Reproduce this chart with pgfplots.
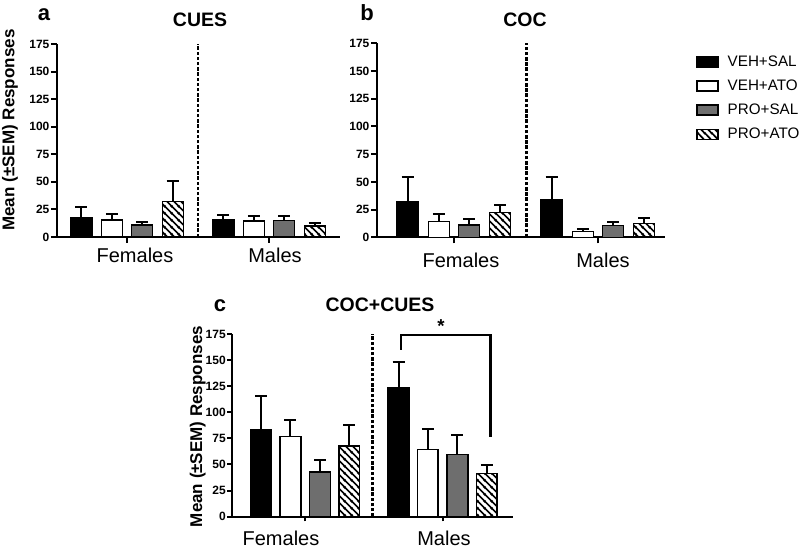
\documentclass[border=0pt]{standalone}
\usepackage{fontspec}
\setmainfont{Liberation Sans}
\usepackage{pgfplots}
\usepackage{pgfplotstable}
\pgfplotsset{compat=1.18}
\usetikzlibrary{patterns.meta}

\definecolor{bargray}{gray}{0.43}

\tikzdeclarepattern{
  name=widehatch,
  type=uncolored,
  bounding box={(0pt,0pt) and (5.4pt,5.4pt)},
  tile size={(5.4pt,5.4pt)},
  code={
    \draw[line width=1.35pt] (-0.8pt,6.2pt) -- (6.2pt,-0.8pt);
    \draw[line width=1.35pt] (-0.8pt,0.8pt) -- (0.8pt,-0.8pt);
    \draw[line width=1.35pt] (4.6pt,6.2pt) -- (6.2pt,4.6pt);
  }
}

% x: 0 = Females, 1 = Males
% vs = VEH+SAL, va = VEH+ATO, ps = PRO+SAL, pa = PRO+ATO (mean, +SEM)
\pgfplotstableread{
x vs vse va vae ps pse pa pae
0 17.5 9.3 15.3 5.7 11.0 2.4 32.3 18.3
1 15.5 4.0 14.6 4.0 15.0 4.2 10.0 3.1
}\cues
\pgfplotstableread{
x vs vse va vae ps pse pa pae
0 31.8 22.4 14.2 6.7 11.2 5.2 22.4 7.0
1 34.2 20.0 5.2 2.1 10.9 2.7 12.4 4.6
}\coc
\pgfplotstableread{
x vs vse va vae ps pse pa pae
0 83.0 33.0 77.0 15.6 43.0 11.3 67.7 19.8
1 124.0 24.0 64.5 19.2 59.7 18.3 41.5 7.7
}\coccues

\newcommand{\legfont}{\fontsize{11.4}{13}\selectfont}

\pgfplotsset{
  panel/.style={
    scale only axis,
    ybar,
    axis lines*=left,
    ymin=0, ymax=175,
    ytick={0,25,...,175},
    xtick={0,1},
    xticklabels={},
    enlargelimits=false,
    clip=false,
    axis line style={line width=1.5pt},
    major tick style={line width=1.5pt, black},
    major tick length=4.5pt,
    tick align=outside,
    /pgf/number format/assume math mode=true,
    yticklabel style={font=\bfseries\fontsize{9}{10}\selectfont, inner sep=1pt},
    ylabel style={font=\bfseries\fontsize{12.75}{14}\selectfont, anchor=center},
  },
  bars/.style={
    draw=black, line width=1.1pt,
    legend image code/.code={
      \draw[##1, line width=1.1pt] (0pt,-3.75pt) rectangle (15.75pt,3.75pt);
      \path[draw=none, fill=none, pattern=none] (0pt,0pt) -- (21pt,0pt);
    },
    error bars/y dir=plus,
    error bars/y explicit,
    error bars/error bar style={line width=1.5pt, black, solid},
    error bars/error mark options={rotate=90, line width=1.5pt, black, mark size=4.5pt},
  },
}

\begin{document}
% node coordinates in pixels of an 800 x 550 image, origin bottom left
\begin{tikzpicture}[x=0.75pt, y=0.75pt]
  \path[use as bounding box] (0,0) rectangle (800,550);

  % ---------- a: CUES ----------
  \begin{axis}[panel,
    at={(42.75pt,234.75pt)}, anchor=south west,
    width=212.25pt, height=144.75pt,
    xmin=-0.493, xmax=1.5,
    bar width=15.75pt,
    ylabel={Mean (±SEM) Responses},
    ylabel style={at={(axis description cs:-0.166,0.554)}},
  ]
    \addplot[bars, fill=black, bar shift=-34.3pt] table[x=x, y=vs, y error=vse] {\cues};
    \addplot[bars, fill=white, bar shift=-11.4pt] table[x=x, y=va, y error=vae] {\cues};
    \addplot[bars, fill=bargray, bar shift=11.4pt] table[x=x, y=ps, y error=pse] {\cues};
    \addplot[bars, pattern=widehatch, bar shift=34.3pt] table[x=x, y=pa, y error=pae] {\cues};
    \draw[line width=2.2pt, dash pattern=on 2.6pt off 1.3pt] (axis cs:0.5,0) -- (axis cs:0.5,175);
  \end{axis}

  % ---------- b: COC ----------
  \begin{axis}[panel,
    at={(282.75pt,234.5pt)}, anchor=south west,
    width=216pt, height=145.5pt,
    xmin=-0.535, xmax=1.465,
    bar width=15.75pt,
    legend style={at={(axis description cs:1.094,0.965)}, anchor=north west,
      draw=none, fill=none, row sep=4.6pt, cells={anchor=west}},
  ]
    \addplot[bars, fill=black, bar shift=-34.9pt] table[x=x, y=vs, y error=vse] {\coc};
    \addlegendentry{\legfont VEH+SAL}
    \addplot[bars, fill=white, bar shift=-11.4pt] table[x=x, y=va, y error=vae] {\coc};
    \addlegendentry{\legfont VEH+ATO}
    \addplot[bars, fill=bargray, bar shift=11.4pt] table[x=x, y=ps, y error=pse] {\coc};
    \addlegendentry{\legfont PRO+SAL}
    \addplot[bars, pattern=widehatch, bar shift=34.5pt] table[x=x, y=pa, y error=pae] {\coc};
    \addlegendentry{\legfont PRO+ATO}
    \draw[line width=2.2pt, dash pattern=on 2.6pt off 1.3pt] (axis cs:0.5,0) -- (axis cs:0.5,175);
  \end{axis}

  % ---------- c: COC+CUES ----------
  \begin{axis}[panel,
    at={(174pt,25pt)}, anchor=south west,
    width=210.75pt, height=137pt,
    xmin=-0.533, xmax=1.512,
    bar width=15.5pt,
    major tick length=3.5pt,
    ylabel={Mean (±SEM) Responses},
    ylabel style={at={(axis description cs:-0.122,0.493)}},
  ]
    \addplot[bars, fill=black, bar shift=-33.1pt] table[x=x, y=vs, y error=vse] {\coccues};
    \addplot[bars, fill=white, bar shift=-11.1pt] table[x=x, y=va, y error=vae] {\coccues};
    \addplot[bars, fill=bargray, bar shift=11.1pt] table[x=x, y=ps, y error=pse] {\coccues};
    \addplot[bars, pattern=widehatch, bar shift=33.1pt] table[x=x, y=pa, y error=pae] {\coccues};
    \draw[line width=2.2pt, dash pattern=on 2.6pt off 1.3pt] (axis cs:0.49,0) -- (axis cs:0.49,175);
    % significance bracket
    \draw[line width=1.8pt] ([xshift=-31.3pt]axis cs:1,160) -- ([xshift=-31.3pt]axis cs:1,174)
      -- ([xshift=36pt]axis cs:1,174) -- ([xshift=36pt]axis cs:1,76.7);
  \end{axis}

  % titles and group labels
  \begin{scope}[every node/.style={inner sep=0pt}]
    \node[anchor=base, font=\bfseries\fontsize{16.5}{18}\selectfont] at (44,529) {a};
    \node[anchor=base, font=\bfseries\fontsize{14.6}{17}\selectfont] at (200,523) {CUES};
    \node[anchor=base, font=\bfseries\fontsize{16.5}{18}\selectfont] at (367,529) {b};
    \node[anchor=base, font=\bfseries\fontsize{14.6}{17}\selectfont] at (525,523) {COC};
    \node[anchor=base, font=\bfseries\fontsize{16.5}{18}\selectfont] at (220,238) {c};
    \node[anchor=base, font=\bfseries\fontsize{14.6}{17}\selectfont] at (380,238) {COC+CUES};
    \node[anchor=north, font=\bfseries\fontsize{14}{16}\selectfont] at (441,231) {*};

    \node[anchor=base, font=\fontsize{15}{17}\selectfont] at (135,287) {Females};
    \node[anchor=base, font=\fontsize{15}{17}\selectfont] at (275,287) {Males};
    \node[anchor=base, font=\fontsize{15}{17}\selectfont] at (461,282) {Females};
    \node[anchor=base, font=\fontsize{15}{17}\selectfont] at (603,282) {Males};
    \node[anchor=base, font=\fontsize{15}{17}\selectfont] at (281,4) {Females};
    \node[anchor=base, font=\fontsize{15}{17}\selectfont] at (444,4) {Males};
  \end{scope}
\end{tikzpicture}
\end{document}
